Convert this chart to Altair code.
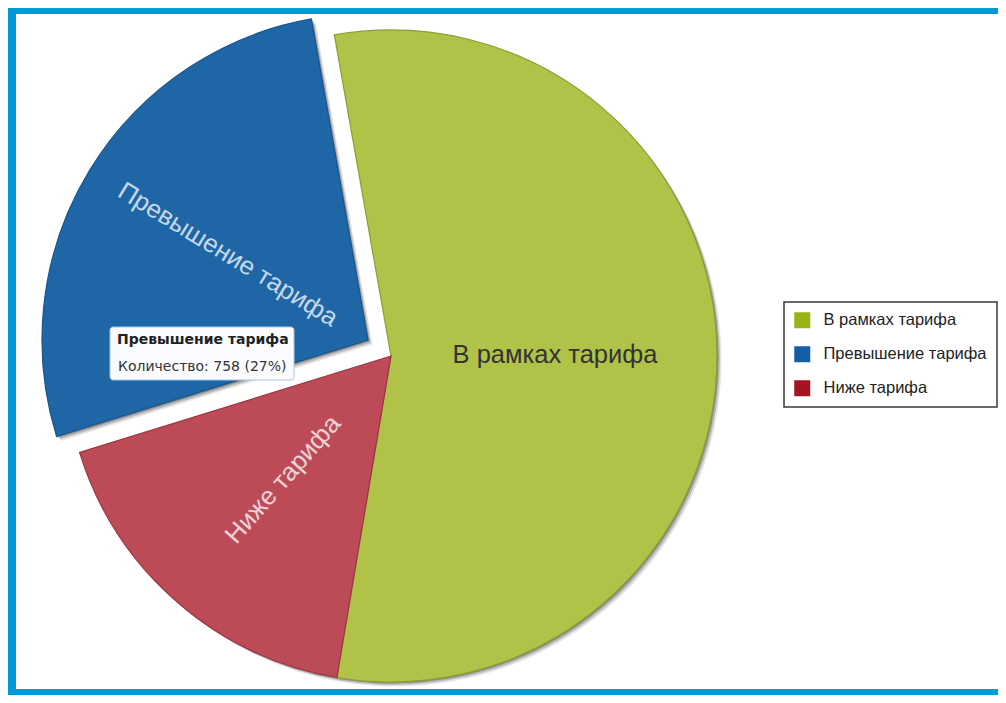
import math
import altair as alt
import pandas as pd

# ---- data ----
categories = ["В рамках тарифа", "Превышение тарифа", "Ниже тарифа"]
counts = [1556, 758, 493]
pie_rank = [0, 2, 1]          # clockwise drawing order in the pie
exploded = [0, 1, 0]

legend_colors = ["#98B414", "#135EA8", "#A51221"]
slice_colors = ["#B0C248", "#1E66A6", "#BC4B57"]
slice_strokes = ["#8E9E2E", "#17568E", "#9C3442"]

total = sum(counts)
df = pd.DataFrame({"cat": categories, "count": counts, "rank": pie_rank, "exploded": exploded})

START = -10 * math.pi / 180
theta_scale = alt.Scale(domain=[0, total], range=[START, START + 2 * math.pi])
fill_scale = alt.Scale(domain=categories, range=slice_colors)
stroke_scale = alt.Scale(domain=categories, range=slice_strokes)

W, H = 990, 687
CX, CY = 383, 348          # pie centre (chart coords)
EX, EY = -23, -16          # explode offset of the blue slice
R = 326
FONT = "Liberation Sans"

base = (
    alt.Chart(df)
    .transform_window(cum="sum(count)", sort=[alt.SortField("rank")], frame=[None, 0])
    .transform_calculate(
        start="datum.cum - datum.count",
        mid="datum.cum - datum.count / 2",
    )
    .transform_calculate(deg=f"datum.mid / {total} * 360 - 10")
    .transform_calculate(ang="datum.deg > 180 ? (datum.deg - 270 + 360) % 360 : 0")
)

normal = base.transform_filter("datum.exploded == 0")
blue = base.transform_filter("datum.exploded == 1")

def arcs(src, cx, cy):
    return src.mark_arc(radius=R, strokeWidth=1.2).encode(
        theta=alt.Theta("start:Q", scale=theta_scale, stack=None),
        theta2="cum:Q",
        fill=alt.Fill("cat:N", scale=fill_scale, legend=None),
        stroke=alt.Stroke("cat:N", scale=stroke_scale, legend=None),
        x=alt.value(cx), y=alt.value(cy),
    )

def shadow(src, cx, cy, d, op):
    return src.mark_arc(radius=R, fill="#000000", opacity=op).encode(
        theta=alt.Theta("start:Q", scale=theta_scale, stack=None),
        theta2="cum:Q",
        x=alt.value(cx + d), y=alt.value(cy + d),
    )

shadows = []
for d, op in [(4.5, 0.10), (3, 0.18), (1.5, 0.25)]:
    shadows.append(shadow(normal, CX, CY, d, op))
    shadows.append(shadow(blue, CX + EX, CY + EY, d, op))

# hidden marks that carry the legend
legend_layer = base.mark_square(size=0, opacity=1).encode(
    color=alt.Color(
        "cat:N",
        scale=alt.Scale(domain=categories, range=legend_colors),
        legend=alt.Legend(
            title=None, orient="none", legendX=776, legendY=294,
            symbolType="square", symbolSize=256, symbolStrokeWidth=0, symbolOpacity=1,
            labelFontSize=16.5, labelFont=FONT, labelColor="#222222", labelOffset=13,
            labelLimit=400, rowPadding=17, padding=10,
            strokeColor="#3A3A3A", fillColor="#ffffff",
        ),
    ),
    x=alt.value(CX), y=alt.value(CY),
)

def labels(src, cx, cy):
    return src.mark_text(radius=164, fontSize=25.5, font=FONT, align="center", baseline="middle").encode(
        theta=alt.Theta("mid:Q", scale=theta_scale, stack=None),
        text="cat:N",
        angle=alt.Angle("ang:Q", scale=None),
        color=alt.condition("datum.exploded == 0 && datum.ang == 0", alt.value("#333333"), alt.value("#ffffff")),
        opacity=alt.condition("datum.exploded == 0 && datum.ang == 0", alt.value(1), alt.value(0.75)),
        x=alt.value(cx), y=alt.value(cy),
    )

# static tooltip box as in the screenshot
tip = blue.transform_calculate(
    line="'Количество: ' + datum.count + ' (' + round(datum.count / " + str(total) + " * 100) + '%)'"
)
tip_box = tip.mark_rect(fill="#F9FBFE", stroke="#A9C6E6", strokeWidth=1, cornerRadius=3).encode(
    x=alt.value(102), x2=alt.value(286), y=alt.value(319), y2=alt.value(372)
)
tip_title = tip.mark_text(align="left", baseline="middle", font="DejaVu Sans", fontSize=14,
                          fontWeight="bold", color="#222222").encode(
    text="cat:N", x=alt.value(109), y=alt.value(332)
)
tip_line = tip.mark_text(align="left", baseline="middle", font="DejaVu Sans", fontSize=14,
                         color="#333333").encode(
    text="line:N", x=alt.value(110), y=alt.value(359)
)

# blue frame of the screenshot
frame_color = "#0099DA"
frame_top = base.mark_rect(color=frame_color).encode(
    x=alt.value(0), x2=alt.value(W), y=alt.value(0), y2=alt.value(6))
frame_left = base.mark_rect(color=frame_color).encode(
    x=alt.value(0), x2=alt.value(8), y=alt.value(0), y2=alt.value(H))
frame_bottom = base.mark_rect(color=frame_color).encode(
    x=alt.value(0), x2=alt.value(W), y=alt.value(H - 6), y2=alt.value(H))

chart = alt.layer(
    legend_layer,
    *shadows,
    arcs(normal, CX, CY),
    arcs(blue, CX + EX, CY + EY),
    labels(normal, CX, CY),
    labels(blue, CX + EX, CY + EY),
    tip_box, tip_title, tip_line,
    frame_top, frame_left, frame_bottom,
).properties(
    width=W, height=H, autosize="none", padding=0
).configure_view(stroke=None).configure_legend(strokeWidth=1.5)

chart.save("out.html", embed_options={"renderer": "svg", "actions": False})
